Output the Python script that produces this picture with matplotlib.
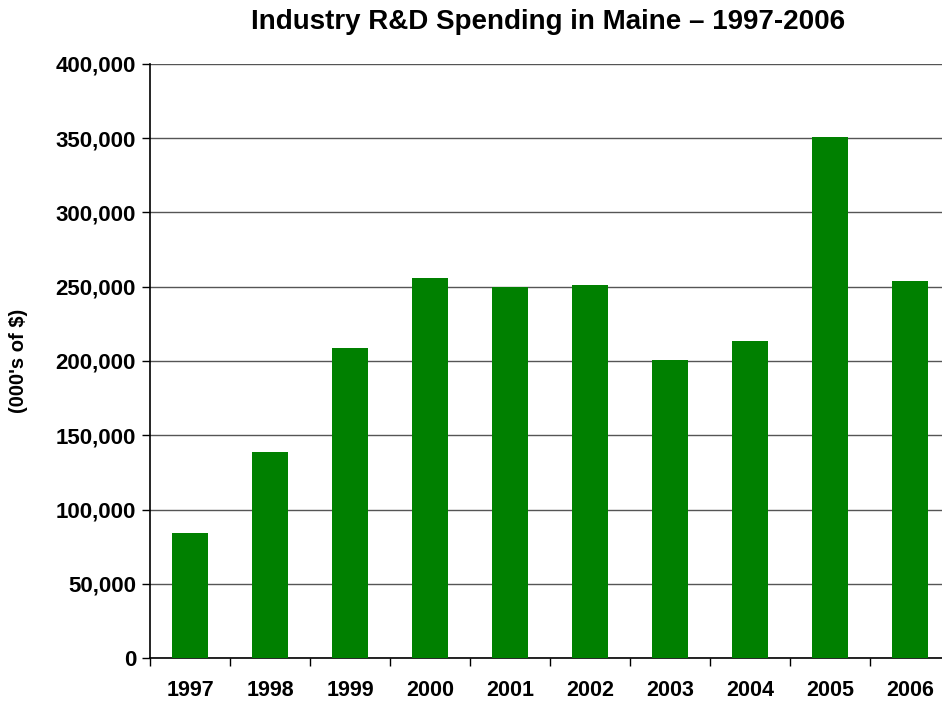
import matplotlib
matplotlib.use("Agg")
import matplotlib.pyplot as plt
import numpy as np

# industry R&D spending, 000's of $
years = ["1997", "1998", "1999", "2000", "2001", "2002", "2003", "2004", "2005", "2006"]
spending = [84000, 138500, 209000, 256000, 249500, 251000, 201000, 213500, 351000, 254000]

plt.rcParams['font.family'] = ['Liberation Sans', 'DejaVu Sans']
plt.rcParams['font.weight'] = 'bold'

fig = plt.figure(figsize=(9.42, 7.02), dpi=100)
ax = fig.add_axes([150/942, 1-658/702, 800/942, (658-64)/702])

x = np.arange(len(years))
ax.bar(x, spending, width=0.445, color='#008000', zorder=3)

ax.set_xlim(-0.5, len(years) - 0.5)
ax.set_ylim(0, 400000)
ax.set_yticks(np.arange(0, 400001, 50000))
ax.set_yticklabels([f"{v:,}" for v in range(0, 400001, 50000)], fontsize=16, fontweight='bold')
ax.yaxis.grid(True, color='#555555', linewidth=1, zorder=0)

# ticks between categories, labels at centers
ax.set_xticks(np.arange(-0.5, len(years), 1.0))
ax.set_xticklabels([])
ax.set_xticks(x, minor=True)
ax.set_xticklabels(years, minor=True, fontsize=15.5, fontweight='bold')
ax.tick_params(axis='x', which='minor', length=0, pad=16)
ax.tick_params(axis='x', which='major', direction='out', length=6, width=1)
ax.tick_params(axis='y', direction='out', length=6, width=1, pad=4)

for side in ['top', 'right']:
    ax.spines[side].set_visible(False)
ax.spines['left'].set_linewidth(1.2)
ax.spines['bottom'].set_linewidth(1.2)

ax.set_ylabel("(000's of $)", fontsize=14.5, fontweight='bold')
ax.yaxis.set_label_coords(-(150 - 28) / 800, 0.5)
fig.text(0.582, 0.968, "Industry R&D Spending in Maine \u2013 1997-2006",
         ha='center', va='center', fontsize=20, fontweight='bold')

fig.savefig("out.png", dpi=100)
